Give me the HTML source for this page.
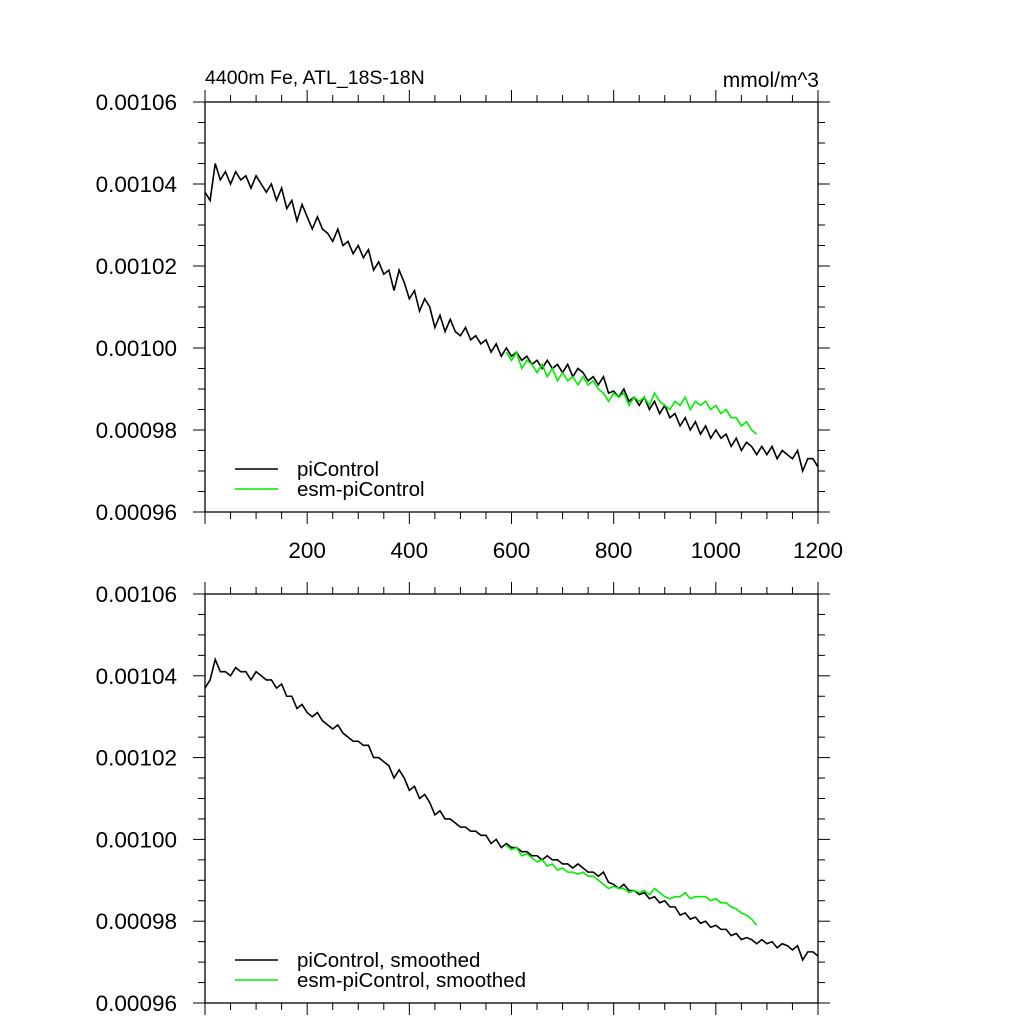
<!DOCTYPE html>
<html><head><meta charset="utf-8"><style>
body{margin:0;background:#fff}
svg{display:block;font-family:"Liberation Sans",sans-serif}
</style></head><body>
<svg id="c" width="1024" height="1024"></svg>
<script>
const years10 = Array.from({length:121},(_,i)=>i*10);
const piRaw = [103.8,103.6,104.5,104.1,104.3,104.0,104.3,104.1,104.2,103.9,104.2,104.0,103.8,104.0,103.6,103.9,103.4,103.6,103.1,103.5,103.2,102.9,103.2,102.9,102.8,102.6,102.9,102.5,102.6,102.3,102.5,102.2,102.4,101.9,102.1,101.8,101.9,101.4,101.9,101.6,101.2,101.4,100.9,101.2,101.0,100.5,100.8,100.4,100.7,100.4,100.3,100.5,100.2,100.3,100.1,100.2,99.9,100.1,99.8,100.0,99.8,99.9,99.7,99.8,99.6,99.7,99.5,99.7,99.5,99.6,99.4,99.6,99.3,99.5,99.4,99.2,99.3,99.1,99.3,98.9,98.95,98.8,99.0,98.7,98.8,98.6,98.8,98.5,98.7,98.4,98.6,98.3,98.4,98.1,98.3,98.0,98.2,97.9,98.1,97.8,98.0,97.8,97.9,97.6,97.8,97.5,97.7,97.6,97.4,97.6,97.4,97.6,97.3,97.5,97.4,97.3,97.5,97.0,97.3,97.3,97.1];
const esmYears = Array.from({length:50},(_,i)=>590+i*10);
const esmRaw = [99.9,99.7,99.9,99.5,99.7,99.6,99.4,99.6,99.3,99.5,99.2,99.4,99.2,99.3,99.1,99.3,99.1,99.2,99.0,98.9,98.7,98.9,98.8,98.9,98.6,98.8,98.7,98.8,98.6,98.9,98.7,98.6,98.5,98.7,98.6,98.8,98.5,98.7,98.6,98.7,98.5,98.6,98.4,98.5,98.3,98.3,98.1,98.2,98.0,97.9];
const piSmooth = [103.7,103.9,104.4,104.1,104.1,104.0,104.2,104.1,104.1,103.9,104.1,104.0,103.9,103.9,103.7,103.8,103.5,103.5,103.2,103.3,103.1,103.0,103.1,102.9,102.8,102.7,102.8,102.6,102.5,102.4,102.4,102.3,102.3,102.0,102.0,101.9,101.8,101.5,101.7,101.5,101.2,101.3,101.0,101.1,100.9,100.6,100.7,100.5,100.5,100.4,100.3,100.3,100.2,100.2,100.1,100.1,99.9,100.0,99.8,99.9,99.8,99.8,99.7,99.7,99.6,99.6,99.5,99.6,99.5,99.5,99.4,99.4,99.3,99.4,99.3,99.2,99.2,99.1,99.2,98.95,98.9,98.8,98.9,98.75,98.75,98.65,98.7,98.55,98.6,98.45,98.5,98.35,98.35,98.15,98.2,98.05,98.1,97.95,98.0,97.85,97.9,97.8,97.8,97.65,97.7,97.55,97.6,97.55,97.45,97.55,97.45,97.5,97.35,97.45,97.4,97.3,97.4,97.05,97.25,97.25,97.15];
const esmSmooth = [99.85,99.75,99.8,99.6,99.65,99.55,99.45,99.5,99.35,99.4,99.25,99.3,99.2,99.2,99.15,99.2,99.1,99.1,99.0,98.9,98.8,98.85,98.8,98.8,98.7,98.75,98.7,98.75,98.65,98.8,98.7,98.6,98.55,98.6,98.6,98.7,98.55,98.6,98.6,98.6,98.5,98.55,98.45,98.45,98.35,98.3,98.2,98.15,98.05,97.9];
const yTicks = [106,104,102,100,98,96];
const yTickLabels = ["0.00106","0.00104","0.00102","0.00100","0.00098","0.00096"];
const xTicks = [200,400,600,800,1000,1200];

const svg=document.getElementById('c'), NS='http://www.w3.org/2000/svg';
function mk(t,a,p){const e=document.createElementNS(NS,t);for(const k in a)e.setAttribute(k,a[k]);(p||svg).appendChild(e);return e;}
const X0=205,X1=818;
const xs=v=>X0+(v/1200)*(X1-X0);

function panel(top,bottom,name,showX,pi,esm,legend){
  const g=mk('g',{});
  
  
  const ys=v=>top+(106-v)/10*(bottom-top);
  const fr=mk('rect',{x:X0,y:top,width:X1-X0,height:bottom-top,fill:'none',stroke:'#000','stroke-width':1.3},g);
  
  
  for(let v=96;v<=106.001;v+=0.5){
    const maj=Math.abs(v/2-Math.round(v/2))<1e-6; const L=maj?12:7;
    mk('line',{x1:X0-L,x2:X0,y1:ys(v),y2:ys(v),stroke:'#000','stroke-width':1},g);
    mk('line',{x1:X1,x2:X1+L,y1:ys(v),y2:ys(v),stroke:'#000','stroke-width':1},g);
  }
  for(let v=0;v<=1225;v+=50){
    if(xs(v)>X1+0.5)break;
    const maj=v%200===0; const L=maj?12:7;
    mk('line',{x1:xs(v),x2:xs(v),y1:top-L,y2:top,stroke:'#000','stroke-width':1},g);
    mk('line',{x1:xs(v),x2:xs(v),y1:bottom,y2:bottom+L,stroke:'#000','stroke-width':1},g);
  }
  yTicks.forEach((v,i)=>{
    const t=mk('text',{x:177,y:ys(v)+8,'text-anchor':'end','font-size':22.5},g);
    t.textContent=yTickLabels[i];
    
    
  });
  if(showX) xTicks.forEach(v=>{
    const t=mk('text',{x:xs(v),y:bottom+46,'text-anchor':'middle','font-size':22.5},g);
    t.textContent=v;
    
    
  });
  const p1=mk('polyline',{points:pi.map((v,i)=>xs(years10[i])+','+ys(v)).join(' '),fill:'none',stroke:'#000','stroke-width':1.6},g);
  
  
  const p2=mk('polyline',{points:esm.map((v,i)=>xs(esmYears[i])+','+ys(v)).join(' '),fill:'none',stroke:'#00ee00','stroke-width':1.6},g);
  
  
  const ly=bottom-43;
  [['#000',legend[0]],['#00ee00',legend[1]]].forEach((d,i)=>{
    mk('line',{x1:235,x2:278,y1:ly+i*20,y2:ly+i*20,stroke:d[0],'stroke-width':1.6},g);
    const t=mk('text',{x:297,y:ly+i*20+7,'font-size':20.5},g);
    t.textContent=d[1];
    
    
  });
}
panel(102,512,'top-panel',true,piRaw,esmRaw,['piControl','esm-piControl']);
panel(594,1003,'bottom-panel',false,piSmooth,esmSmooth,['piControl, smoothed','esm-piControl, smoothed']);
const t1=mk('text',{x:205,y:84,'font-size':19.5});t1.textContent='4400m Fe, ATL_18S-18N';


const t2=mk('text',{x:819,y:87,'font-size':21,'text-anchor':'end'});t2.textContent='mmol/m^3';


</script>
</body></html>
